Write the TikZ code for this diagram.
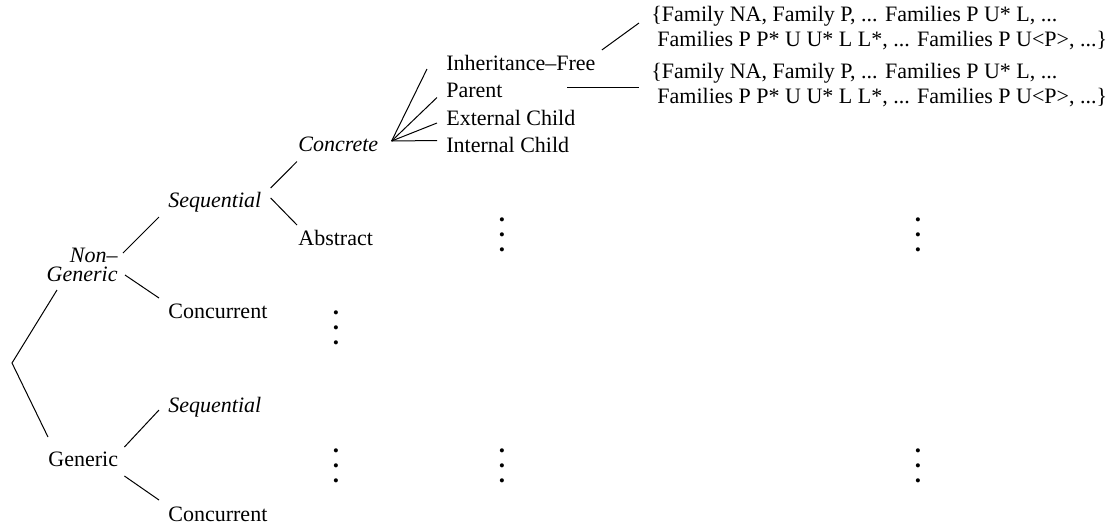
\documentclass[tikz,border=0pt]{standalone}
\usepackage{fontspec}
\setmainfont{Liberation Serif}
\usetikzlibrary{positioning,calc}
\newcommand{\colvdots}{\vbox{\baselineskip=7.5pt\lineskiplimit=-\maxdimen\hbox{.}\hbox{.}\hbox{.}}}
\tikzset{
  lbl/.style={font=\fontsize{11}{12.5}\selectfont, inner sep=0pt, anchor=base west},
  cat/.style={lbl, font=\fontsize{11}{12.5}\selectfont\itshape},
  fam/.style={lbl, align=left, anchor=north west},
  more/.style={inner sep=0pt, font=\fontsize{12.5}{12.5}\selectfont\bfseries},
  br/.style={draw=black, line width=0.5pt},
}

\begin{document}
\begin{tikzpicture}[x=0.5pt, y=-0.5pt]
  \useasboundingbox (0,0) rectangle (1115,527);

  % ===== first split: generic or not =====
  \coordinate (root) at (12,363);
  \node[cat, align=right, anchor=north east] (ng) at (118,248) {Non--\\[-3pt]Generic};
  \node[lbl] (gen) at (48,466) {Generic};

  % ===== second level =====
  \node[cat] (seqA) at (168,207.5) {Sequential};
  \node[lbl] (concA) at (168,318) {Concurrent};
  \node[cat] (seqB) at (168,412) {Sequential};
  \node[lbl] (concB) at (168,521) {Concurrent};

  % ===== sequential, non-generic =====
  \node[cat] (concrete) at (298,151.5) {Concrete};
  \node[lbl] (abstract) at (298,245) {Abstract};

  % leaves of the concrete fan, stacked
  \node[lbl] (inh) at (446,70) {Inheritance--Free};
  \node[lbl] (par) at ([yshift=-13.75pt]inh.base west) {Parent};
  \node[lbl] (ext) at ([yshift=-13.75pt]par.base west) {External Child};
  \node[lbl] (int) at ([yshift=-13.75pt]ext.base west) {Internal Child};

  % ===== family sets =====
  \node[fam] (famA) at (651,6) {\{Family NA, Family P, ... Families P U* L, ...\\
    \hspace*{3pt}Families P P* U U* L L*, ... Families P U<P>, ...\}};
  \node[fam] (famB) at (651,63) {\{Family NA, Family P, ... Families P U* L, ...\\
    \hspace*{3pt}Families P P* U U* L L*, ... Families P U<P>, ...\}};

  % ===== elided branches =====
  \node[more] (dA) at (336,328) {\colvdots};
  \node[more] (dB) at (502,235) {\colvdots};
  \node[more] (dC) at (918,235) {\colvdots};
  \node[more] (dD) at (336,466) {\colvdots};
  \node[more] (dE) at (502,466) {\colvdots};
  \node[more] (dF) at (918,466) {\colvdots};

  % ===== edges =====
  \draw[br] ([shift={(-61,42)}]ng.north east) -- (root) -- ([shift={(0,-29)}]gen.base west);
  \draw[br] ([shift={(5,5)}]ng.north east) -- ([shift={(-9,9.5)}]seqA.base west);
  \draw[br] ([shift={(7,27)}]ng.north east) -- ([shift={(-9,-20)}]concA.base west);
  \draw[br] ([shift={(6,-19)}]gen.base east) -- ([shift={(-9,-2)}]seqB.base west);
  \draw[br] ([shift={(6,10)}]gen.base east) -- ([shift={(-9,-21)}]concB.base west);
  \draw[br] ([shift={(9,-19.5)}]seqA.base east) -- ([shift={(-1,10)}]concrete.base west);
  \draw[br] ([shift={(9,-9.5)}]seqA.base east) -- ([shift={(-1,-20)}]abstract.base west);

  % concrete fan
  \coordinate (apex) at ([shift={(13,-10.5)}]concrete.base east);
  \draw[br] (apex) -- ([shift={(-19,-1)}]inh.base west);
  \draw[br] (apex) -- ([shift={(-9,0)}]par.base west);
  \draw[br] (apex) -- ([shift={(-9,-2)}]ext.base west);
  \draw[br] (apex) -- ([shift={(-9,-12)}]int.base west);

  \draw[br] ([shift={(6,-20)}]inh.base east) -- ([shift={(-12,17)}]famA.north west);
  \draw[br] ([shift={(64,-10.5)}]par.base east) -- ([shift={(-12,24)}]famB.north west);

\end{tikzpicture}
\end{document}
